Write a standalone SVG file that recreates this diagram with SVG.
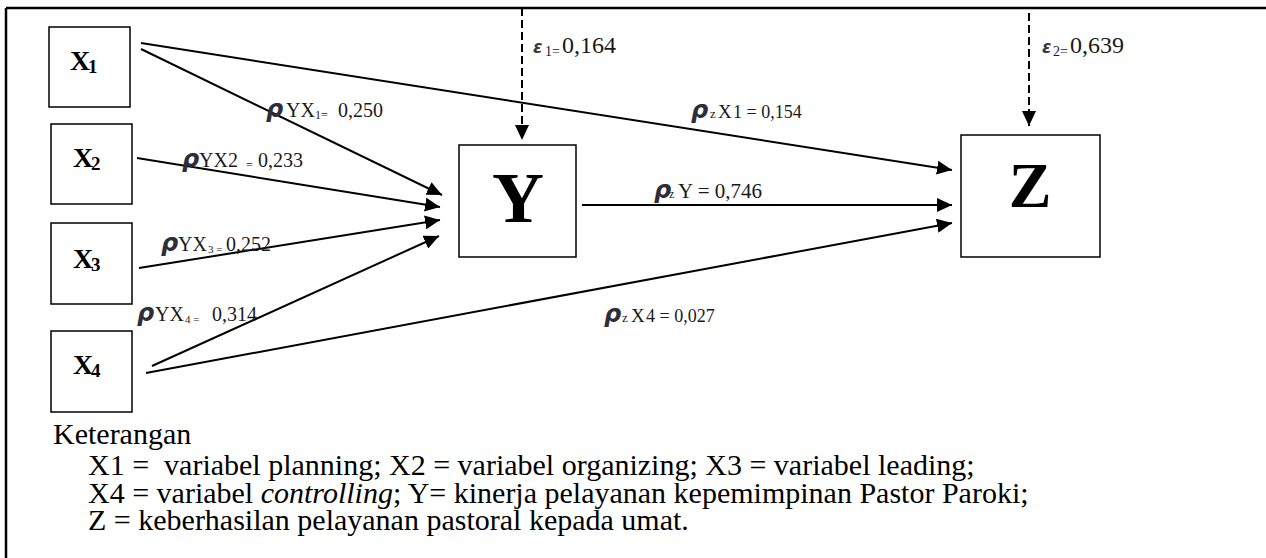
<svg xmlns="http://www.w3.org/2000/svg" width="1266" height="558" viewBox="0 0 1266 558">
<style>
.box{fill:#fff;stroke:#000;stroke-width:1.5}
.node{font-family:'Liberation Serif','DejaVu Serif',serif;font-weight:bold;fill:#000}
.edge{fill:none;stroke:#000;stroke-width:2}
.dash{fill:none;stroke:#000;stroke-width:2;stroke-dasharray:8 4}
.lbl{font-family:'Liberation Serif','DejaVu Serif',serif;font-weight:normal;font-size:20px;fill:#1a1a1a}
.rho{font-family:'DejaVu Sans',sans-serif;font-weight:bold;font-style:italic;font-size:24px;fill:#2e2e3a}
.eps{font-family:'DejaVu Sans',sans-serif;font-weight:bold;font-style:italic;font-size:17px;fill:#3a3a3a}
.leg{font-family:'Liberation Serif','Times New Roman',serif;font-weight:normal;font-size:30px;fill:#000}
</style>
<defs>
<marker id="ah" viewBox="0 0 15 14" refX="15" refY="7" markerWidth="15" markerHeight="14" markerUnits="userSpaceOnUse" orient="auto">
<path d="M0,0 L15,7 L0,14 z" fill="#000"/>
</marker>
</defs>
<rect width="1266" height="558" fill="#fff"/>
<g id="frame">
<line x1="6" y1="8" x2="1266" y2="8" stroke="#000" stroke-width="2.5"/>
<line x1="6" y1="8" x2="6" y2="558" stroke="#000" stroke-width="2.5"/>
</g>
<g id="connectors">
<line class="edge" x1="141" y1="43" x2="952" y2="170" marker-end="url(#ah)"/>
<line class="edge" x1="141" y1="49" x2="442" y2="195" marker-end="url(#ah)"/>
<line class="edge" x1="137" y1="158" x2="440" y2="207" marker-end="url(#ah)"/>
<line class="edge" x1="139" y1="268" x2="440" y2="220" marker-end="url(#ah)"/>
<line class="edge" x1="152" y1="366" x2="439" y2="236" marker-end="url(#ah)"/>
<line class="edge" x1="146" y1="373" x2="952" y2="223" marker-end="url(#ah)"/>
<line class="edge" x1="582" y1="205" x2="952" y2="205" marker-end="url(#ah)"/>
<line class="dash" x1="522" y1="8" x2="522" y2="140" marker-end="url(#ah)"/>
<line class="dash" x1="1029" y1="13" x2="1029" y2="126" marker-end="url(#ah)"/>
</g>
<g id="node-X1">
<rect class="box" x="49" y="27" width="81" height="80"/>
<text class="node" x="70" y="70" font-size="28">X<tspan x="88" dy="3" font-size="19">1</tspan></text>
</g>
<g id="node-X2">
<rect class="box" x="51" y="124" width="81" height="80"/>
<text class="node" x="73" y="167" font-size="28">X<tspan x="91" dy="3" font-size="19">2</tspan></text>
</g>
<g id="node-X3">
<rect class="box" x="51" y="223" width="81" height="81"/>
<text class="node" x="73" y="268" font-size="28">X<tspan x="91" dy="3" font-size="19">3</tspan></text>
</g>
<g id="node-X4">
<rect class="box" x="51" y="331" width="81" height="81"/>
<text class="node" x="73" y="374" font-size="28">X<tspan x="91" dy="3" font-size="19">4</tspan></text>
</g>
<g id="node-Y">
<rect class="box" x="459" y="145" width="117" height="112"/>
<text class="node" x="518" y="222" font-size="72" text-anchor="middle">Y</text>
</g>
<g id="node-Z">
<rect class="box" x="961" y="135" width="139" height="122"/>
<text class="node" x="1030" y="207" font-size="64" text-anchor="middle">Z</text>
</g>
<g id="labels">
<text class="lbl" y="117"><tspan class="rho" x="266">ρ</tspan><tspan x="286">YX</tspan><tspan x="315" dy="2" font-size="12">1=</tspan><tspan x="338" dy="-2">0,250</tspan></text>
<text class="lbl" y="167"><tspan class="rho" x="182">ρ</tspan><tspan x="199">YX2</tspan><tspan x="246" dy="2" font-size="12">=</tspan><tspan x="258" dy="-2">0,233</tspan></text>
<text class="lbl" y="251"><tspan class="rho" x="161">ρ</tspan><tspan x="178">YX</tspan><tspan x="208" dy="2" font-size="11">3 =</tspan><tspan x="226" dy="-2">0,252</tspan></text>
<text class="lbl" y="321"><tspan class="rho" x="137">ρ</tspan><tspan x="155">YX</tspan><tspan x="185" dy="2" font-size="11">4 =</tspan><tspan x="212" dy="-2">0,314</tspan></text>
<text class="lbl" y="118"><tspan class="rho" x="691" font-size="27">ρ</tspan><tspan x="710" font-size="13">z</tspan><tspan x="718" font-size="19">X</tspan><tspan x="733" font-size="18">1 = 0,154</tspan></text>
<text class="lbl" y="198"><tspan class="rho" x="654" font-size="20">ρ</tspan><tspan x="669" font-size="12">z</tspan><tspan x="678" font-size="21">Y = 0,746</tspan></text>
<text class="lbl" y="322"><tspan class="rho" x="604" font-size="27">ρ</tspan><tspan x="622" font-size="13">z</tspan><tspan x="631" font-size="19">X</tspan><tspan x="646" font-size="18">4 = 0,027</tspan></text>
<text class="lbl" y="53"><tspan class="eps" x="533">ε</tspan><tspan x="545" dy="3" font-size="14">1=</tspan><tspan x="562" dy="-3" font-size="24">0,164</tspan></text>
<text class="lbl" y="53"><tspan class="eps" x="1042">ε</tspan><tspan x="1053" dy="3" font-size="14">2=</tspan><tspan x="1070" dy="-3" font-size="24">0,639</tspan></text>
</g>
<g id="legend">
<text class="leg" xml:space="preserve"><tspan x="53" y="444">Keterangan</tspan><tspan x="88" y="475">X1 =  variabel planning; X2 = variabel organizing; X3 = variabel leading;</tspan><tspan x="88" y="503">X4 = variabel </tspan><tspan font-style="italic">controlling</tspan><tspan>; Y= kinerja pelayanan kepemimpinan Pastor Paroki;</tspan><tspan x="88" y="530">Z = keberhasilan pelayanan pastoral kepada umat.</tspan></text>
</g>
</svg>
